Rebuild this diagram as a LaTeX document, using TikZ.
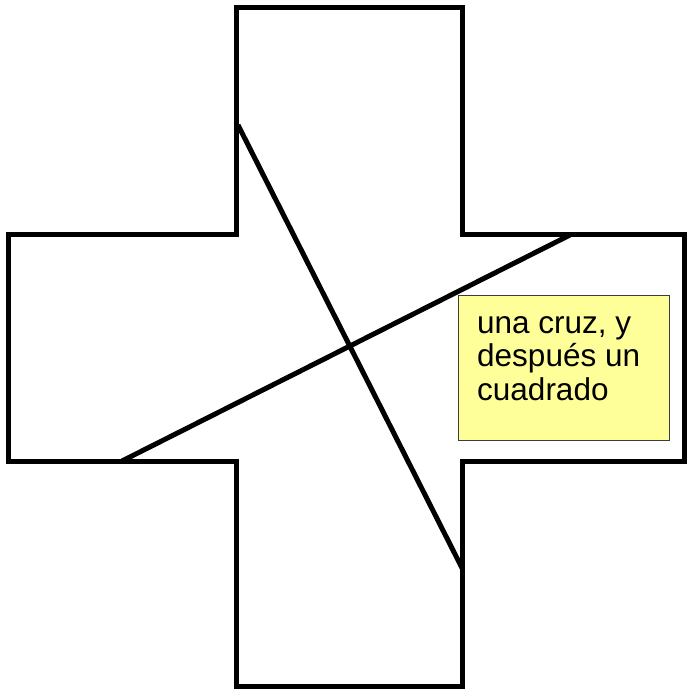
\documentclass[tikz,border=0pt]{standalone}
\usepackage{fontspec}
\setmainfont{Liberation Sans}
\usepackage{tikz}
\usetikzlibrary{positioning}
\definecolor{notefill}{RGB}{255, 255, 153}
\definecolor{notedraw}{RGB}{60, 60, 60}

\begin{document}
\begin{tikzpicture}[
    x=1pt, y=-1pt,
    outline/.style={draw=black, line width=5pt, line join=miter},
    note/.style={rectangle, draw=notedraw, line width=0.8pt, fill=notefill, minimum width=211pt, minimum height=145pt, inner sep=0pt},
    notetext/.style={align=left, font=\fontsize{31.5}{33.5}\selectfont, inner sep=0pt, anchor=base west}
]
\useasboundingbox (0,0) rectangle (689,692);

% the cross
\draw[outline] (236,8) -- (462,8) -- (462,235) -- (684,235) -- (684,461)
    -- (462,461) -- (462,686) -- (236,686) -- (236,461) -- (8,461)
    -- (8,235) -- (236,235) -- cycle;

% the two crossing lines
\coordinate (topleft) at (238,125);
\coordinate (lowright) at (462,568);
\coordinate (lowleft) at (122,461);
\coordinate (topright) at (570,235);
\draw[outline] (topleft) -- (lowright);
\draw[outline] (lowleft) -- (topright);

% the note
\node[note, anchor=north west] (notebox) at (458,295) {};
\node[notetext] (note) at (477,400) {una cruz, y\\después un\\cuadrado};

\end{tikzpicture}
\end{document}
